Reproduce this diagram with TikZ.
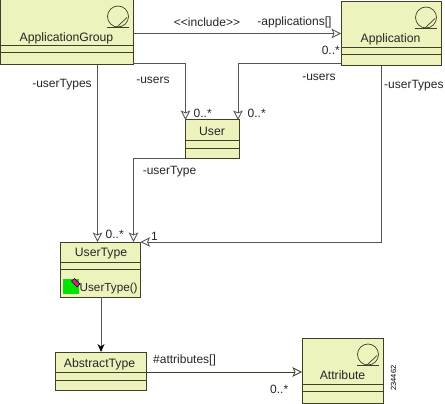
\documentclass[tikz,border=0pt]{standalone}
\usepackage{fontspec}
\setmainfont{Liberation Sans}
\usetikzlibrary{arrows.meta}
\definecolor{boxfill}{HTML}{EEF2BC}
\definecolor{boxline}{HTML}{3F4028}
\definecolor{conn}{HTML}{555555}
\tikzset{
  x=1pt,y=-1pt,
  classbox/.style={draw=boxline,fill=boxfill,line width=1pt},
  seprule/.style={draw=boxline,line width=.9pt},
  assoc/.style={draw=conn,line width=.9pt,-{Stealth[open,inset=2pt,length=9.5pt,width=9.5pt,line width=.8pt]}},
  inherit/.style={draw=conn,line width=1pt,-{Stealth[length=8pt,width=7pt,black]}},
  clsname/.style={font=\fontsize{12.2}{13}\selectfont,inner sep=0pt,text=black!85},
  lab/.style={font=\fontsize{12}{13}\selectfont,inner sep=0pt,text=black!85},
}
\newcommand{\classicon}[2]{%
  \draw[boxline,line width=.7pt] (#1,#2) circle[radius=10.5];
  \draw[boxline,line width=.7pt] (#1-11,#2+10.5) -- (#1+11,#2+10.5);
  \draw[boxline,line width=.7pt] (#1-1,#2+10.5) -- (#1+9,#2+1);
}
\begin{document}
\begin{tikzpicture}
\useasboundingbox[fill=white] (0,0) rectangle (445,404);
% boxes
\coordinate (agNW) at (0,0); \coordinate (agSE) at (133,65);
\coordinate (apNW) at (341,2); \coordinate (apSE) at (441,66);
\coordinate (uNW) at (185,120); \coordinate (uSE) at (239,158);
\coordinate (utNW) at (60.5,242); \coordinate (utSE) at (140.5,297);
\coordinate (atNW) at (55.5,352); \coordinate (atSE) at (146,390);
\coordinate (attNW) at (302,338.5); \coordinate (attSE) at (383,403.5);
\path[classbox] (agNW) rectangle (agSE);
\path[classbox] (apNW) rectangle (apSE);
\path[classbox] (uNW) rectangle (uSE);
\path[classbox] (utNW) rectangle (utSE);
\path[classbox] (atNW) rectangle (atSE);
\path[classbox] (attNW) rectangle (attSE);
\draw[seprule] (0,45.5)--(133,45.5) (0,52.5)--(133,52.5);
\draw[seprule] (341,47.5)--(441,47.5) (341,54.5)--(441,54.5);
\draw[seprule] (185,140.5)--(239,140.5) (185,148)--(239,148);
\draw[seprule] (60.5,262.5)--(140.5,262.5) (60.5,269.5)--(140.5,269.5);
\draw[seprule] (55.5,372)--(146,372) (55.5,380)--(146,380);
\draw[seprule] (302,384)--(383,384) (302,391)--(383,391);
\classicon{118}{16.5}
\classicon{426}{17.5}
\classicon{368}{354.5}
% method icon
\fill[green!90!black] (63,279) rectangle (79,294);
\fill[magenta!85!black,draw=black,line width=.4pt] (71.5,281) -- (74.5,278.5) -- (80,284) -- (77,287) -- cycle;
% names
\node[clsname] (agn) at (66.5,38) {ApplicationGroup};
\node[clsname] (apn) at (390.5,39) {Application};
\node[clsname] (un) at (212,131.5) {User};
\node[clsname] (utn) at (101,254) {UserType};
\node[clsname] (atn) at (99.5,364) {AbstractType};
\node[clsname] (attn) at (342.5,375.5) {Attribute};
\node[clsname,anchor=west,font=\fontsize{11.7}{13}\selectfont] (utm) at (79.5,288) {UserType()};
% connection points
\coordinate (a1) at (133,33.5); \coordinate (a2) at (341,33.5);
\coordinate (b1) at (133,63.5); \coordinate (b2) at (185.5,63.5); \coordinate (b3) at (185.5,120);
\coordinate (c1) at (341,63.5); \coordinate (c2) at (238,63.5); \coordinate (c3) at (238,120);
\coordinate (d1) at (97.5,65); \coordinate (d2) at (97.5,242);
\coordinate (e1) at (185,158); \coordinate (e2) at (133.5,158); \coordinate (e3) at (133.5,242);
\coordinate (f1) at (381,66); \coordinate (f2) at (381,242); \coordinate (f3) at (140.5,242);
\coordinate (g1) at (101,297); \coordinate (g2) at (101,352);
\coordinate (h1) at (146,372); \coordinate (h2) at (302,372);
\draw[assoc] (a1) -- (a2);
\draw[assoc] (b1) -- (b2) -- (b3);
\draw[assoc] (c1) -- (c2) -- (c3);
\draw[assoc] (d1) -- (d2);
\draw[assoc] (e1) -- (e2) -- (e3);
\draw[assoc] (f1) -- (f2) -- (f3);
\draw[inherit] (g1) -- (g2);
\draw[assoc,draw=boxline] (h1) -- (h2);
% labels
\node[lab] (l1) at (207,22) {<{}<include>{}>};
\node[lab] (l2) at (294.5,22) {-applications[]};
\node[lab,anchor=east] (l3) at (340,50.5) {0..*};
\node[lab] (l4) at (62,85) {-userTypes};
\node[lab] (l5) at (153,80) {-users};
\node[lab,anchor=west] (l6) at (193.5,113) {0..*};
\node[lab,anchor=west] (l7) at (247.5,113) {0..*};
\node[lab] (l8) at (319,77) {-users};
\node[lab,anchor=west] (l9) at (384,85.5) {-userTypes};
\node[lab] (l10) at (169.5,172) {-userType};
\node[lab,anchor=west] (l11) at (105.5,234.5) {0..*};
\node[lab,anchor=west] (l12) at (151,236) {1};
\node[lab,anchor=west] (l13) at (153,360) {\#attributes[]};
\node[lab,anchor=west] (l14) at (270,389) {0..*};
\node[font=\fontsize{7.5}{8}\selectfont,rotate=90,inner sep=0pt] (l15) at (393.5,378) {234462};
\end{tikzpicture}
\end{document}
